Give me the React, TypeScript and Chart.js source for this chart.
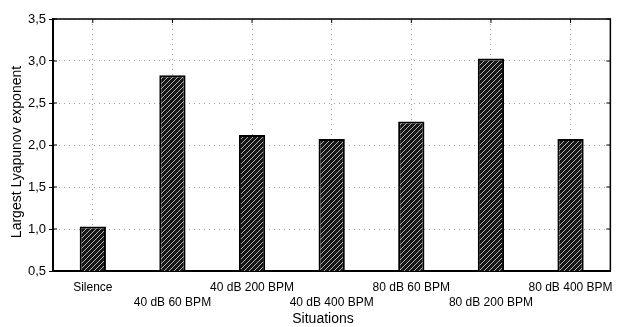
import React, { useEffect, useRef } from "react";
import { Chart, registerables } from "chart.js";

Chart.register(...registerables);

const categories: string[][] = [
  ["Silence", ""],
  ["", "40 dB 60 BPM"],
  ["40 dB 200 BPM", ""],
  ["", "40 dB 400 BPM"],
  ["80 dB 60 BPM", ""],
  ["", "80 dB 200 BPM"],
  ["80 dB 400 BPM", ""],
];
const lyapunovValues: number[] = [1.03, 2.83, 2.12, 2.07, 2.28, 3.03, 2.07];
const yMin = 0.5;
const yMax = 3.5;
const yStep = 0.5;
const yTitle = "Largest Lyapunov exponent";
const xTitle = "Situations";

function makeHatch(): CanvasPattern | string {
  const c = document.createElement("canvas");
  c.width = 5;
  c.height = 5;
  const g = c.getContext("2d");
  if (!g) return "#333";
  g.fillStyle = "#161616";
  g.fillRect(0, 0, 5, 5);
  g.strokeStyle = "#b0b0b0";
  g.lineWidth = 1;
  g.beginPath();
  g.moveTo(0, 5);
  g.lineTo(5, 0);
  g.moveTo(-2.5, 2.5);
  g.lineTo(2.5, -2.5);
  g.moveTo(2.5, 7.5);
  g.lineTo(7.5, 2.5);
  g.stroke();
  const p = g.createPattern(c, "repeat");
  return p || "#333";
}

const framePlugin = {
  id: "frame",
  afterDraw(chart: any) {
    const { ctx, chartArea } = chart;
    const { left, right, top, bottom } = chartArea;
    ctx.save();
    ctx.strokeStyle = "#000";
    ctx.lineWidth = 1.5;
    ctx.beginPath();
    ctx.moveTo(left, top);
    ctx.lineTo(right, top);
    ctx.lineTo(right, bottom);
    ctx.stroke();
    const ys = chart.scales.y;
    const xs = chart.scales.x;
    ctx.lineWidth = 1;
    ys.ticks.forEach((t: any) => {
      const y = ys.getPixelForValue(t.value);
      ctx.beginPath();
      ctx.moveTo(right, y);
      ctx.lineTo(right - 4, y);
      ctx.moveTo(left, y);
      ctx.lineTo(left + 4, y);
      ctx.stroke();
    });
    categories.forEach((_c, i) => {
      const x = xs.getPixelForValue(i);
      ctx.beginPath();
      ctx.moveTo(x, top);
      ctx.lineTo(x, top + 4);
      ctx.stroke();
    });
    ctx.fillStyle = "#000";
    ctx.font = '14px "Liberation Sans", Arial, sans-serif';
    ctx.textAlign = "center";
    ctx.textBaseline = "middle";
    ctx.fillText(xTitle, 323, 319);
    ctx.translate(17, 152);
    ctx.rotate(-Math.PI / 2);
    ctx.fillText(yTitle, 0, 0);
    ctx.restore();
  },
};

export default function App() {
  const ref = useRef<HTMLCanvasElement | null>(null);
  useEffect(() => {
    document.body.style.margin = "0";
    const canvas = ref.current;
    if (!canvas) return;
    const family = '"Liberation Sans", Arial, sans-serif';
    const chart = new Chart(canvas, {
      type: "bar",
      data: {
        labels: categories,
        datasets: [
          {
            data: lyapunovValues,
            backgroundColor: makeHatch() as any,
            borderColor: "#000",
            borderWidth: 2,
            borderSkipped: false,
            barPercentage: 0.33,
            categoryPercentage: 1,
          },
        ],
      },
      options: {
        responsive: false,
        animation: false,
        devicePixelRatio: 1,
        layout: { padding: { top: 19, right: 6, left: 0, bottom: 0 } },
        plugins: { legend: { display: false }, tooltip: { enabled: false } },
        scales: {
          x: {
            offset: true,
            grid: {
              offset: false,
              color: "#a0a0a0",
              lineWidth: 1,
              drawTicks: false,
            },
            border: { display: true, color: "#000", width: 2, dash: [1, 4] },
            ticks: {
              color: "#000",
              font: { family, size: 12, lineHeight: 1.25 },
              padding: 9,
              maxRotation: 0,
              autoSkip: false,
            },
            afterFit: (s: any) => {
              s.height = 56;
            },
          },
          y: {
            min: yMin,
            max: yMax,
            grid: {
              color: "#a0a0a0",
              lineWidth: 1,
              drawTicks: true,
              tickLength: 4,
              tickColor: "#000",
              tickBorderDash: [],
            },
            border: { display: true, color: "#000", width: 2, dash: [1, 4] },
            ticks: {
              stepSize: yStep,
              color: "#000",
              font: { family, size: 13 },
              padding: 3,
              callback: (v: any) => Number(v).toFixed(1).replace(".", ","),
            },
            afterFit: (s: any) => {
              s.width = 53;
            },
          },
        },
      },
      plugins: [framePlugin],
    });
    return () => chart.destroy();
  }, []);
  return <canvas ref={ref} width={622} height={327} style={{ display: "block" }} />;
}
